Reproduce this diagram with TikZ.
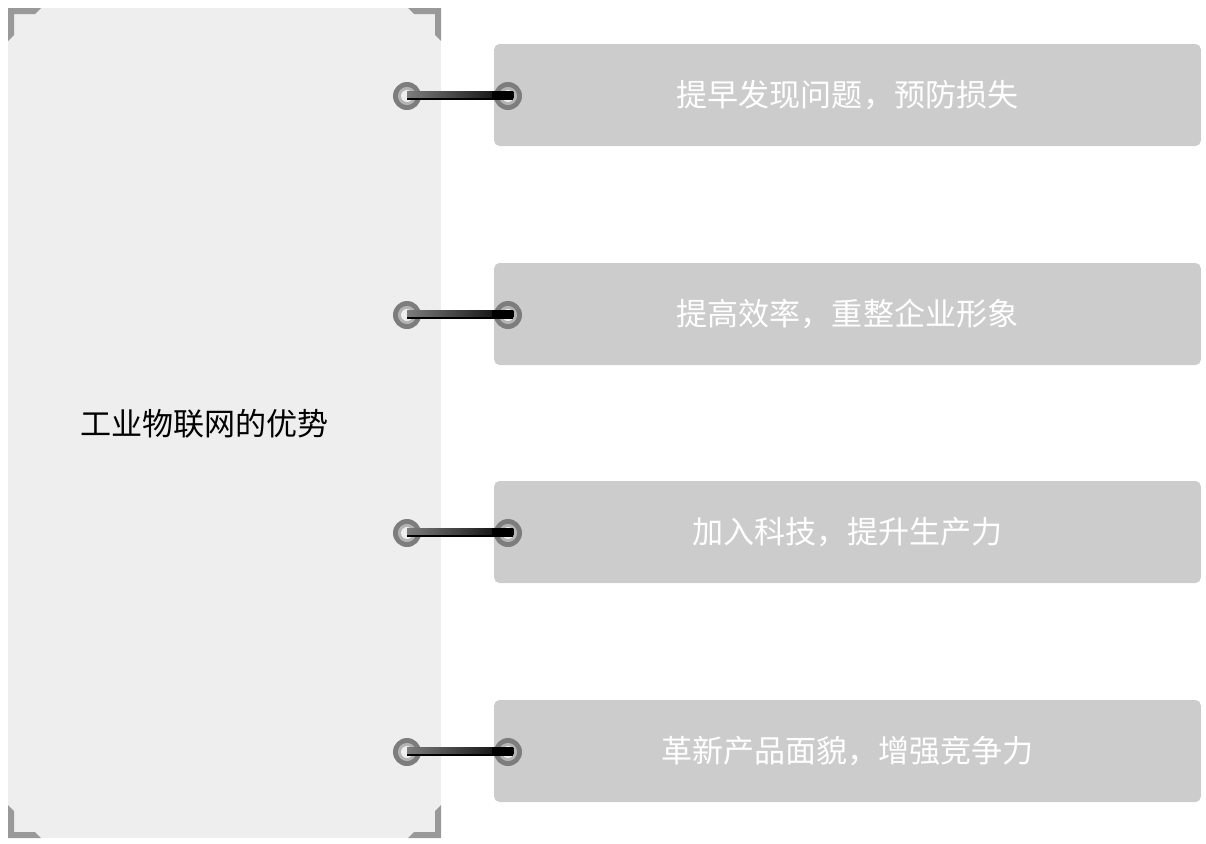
\documentclass[tikz,border=0pt]{standalone}
\usepackage{fontspec}
\newfontfamily\cjk{Noto Sans CJK SC}
\usepackage{tikz}
\usetikzlibrary{positioning,calc,backgrounds}
\definecolor{PanelGray}{RGB}{238,238,238}
\definecolor{BoxGray}{RGB}{204,204,204}
\definecolor{BracketGray}{RGB}{153,153,153}
\definecolor{RingGray}{RGB}{125,125,125}
\definecolor{RingLight}{RGB}{180,180,180}
\tikzset{
  panel/.style={fill=PanelGray, draw=none},
  benefit/.style={fill=BoxGray, rounded corners=4pt, minimum width=530pt, minimum height=76.5pt,
    text=white, font=\cjk\fontsize{23.3}{27}\selectfont},
  ring/.style={circle, fill=RingGray, minimum size=21pt, inner sep=0pt},
  bracket/.style={fill=BracketGray}
}
\begin{document}
\begin{tikzpicture}[x=0.75pt, y=-0.75pt]
            \useasboundingbox (0,0) rectangle (1206,843);
            % left panel with corner marks
            \fill[panel] (8,8) rectangle (441,838);
            \fill[bracket] (8,8) -- (41,8) -- (35,14) -- (14,14) -- (14,35) -- (8,41) -- cycle;
            \fill[bracket] (441,8) -- (408,8) -- (414,14) -- (435,14) -- (435,35) -- (441,41) -- cycle;
            \fill[bracket] (8,838) -- (41,838) -- (35,832) -- (14,832) -- (14,811) -- (8,805) -- cycle;
            \fill[bracket] (441,838) -- (408,838) -- (414,832) -- (435,832) -- (435,811) -- (441,805) -- cycle;
            \node[anchor=west, inner sep=0pt, font=\cjk\fontsize{23.3}{27}\selectfont] (title) at (80,424) {工业物联网的优势};
            % benefits
            \foreach \i/\y/\txt in {1/95/{提早发现问题，预防损失},
                                    2/314/{提高效率，重整企业形象},
                                    3/532/{加入科技，提升生产力},
                                    4/751/{革新产品面貌，增强竞争力}}{
                \node[benefit] (box\i) at (847.5,\y) {\txt};
                \node[ring] (l\i) at (407,\y+1) {};
                \node[ring] (r\i) at (508,\y+1) {};
                \foreach \n in {l\i,r\i}{
                    \fill[RingLight] (\n) circle (6.8pt);
                    \fill[PanelGray] (\n) circle (4.5pt);
                }
                \shade[left color=RingGray, middle color=white, right color=black]
                    ([yshift=-2pt]l\i.center) rectangle ([yshift=3.5pt,xshift=4pt]r\i.center);
                \fill[black] ([xshift=-12pt,yshift=-2pt]r\i.center) rectangle ([yshift=3.5pt,xshift=4pt]r\i.center);
                \draw[black, line width=1.5pt] ([yshift=-2.5pt]l\i.center) -- ([yshift=-2.5pt,xshift=4pt]r\i.center);
            }
        \end{tikzpicture}
\end{document}
